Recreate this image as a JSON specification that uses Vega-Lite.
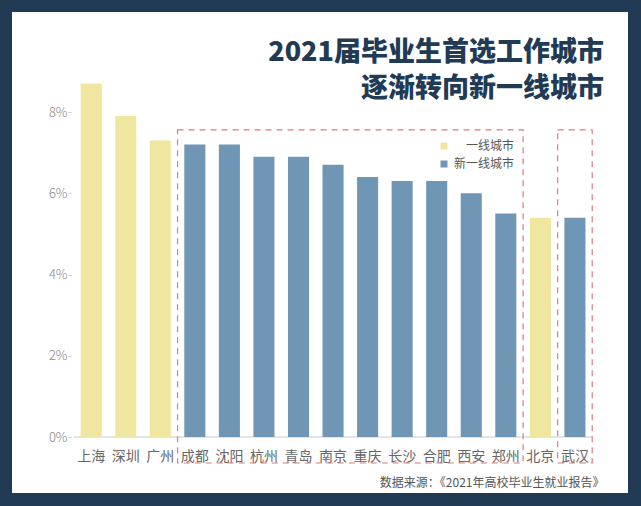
{
  "$schema": "https://vega.github.io/schema/vega-lite/v6.json",
  "width": 616,
  "height": 481,
  "autosize": {"type": "none"},
  "padding": {"left": 12, "top": 12, "right": 13, "bottom": 13},
  "background": "#213b55",
  "config": {
    "view": {"fill": "white", "stroke": null},
    "font": "Noto Sans CJK SC"
  },
  "title": {
    "text": ["2021届毕业生首选工作城市", "逐渐转向新一线城市"],
    "anchor": "end",
    "frame": "group",
    "font": "Noto Sans CJK SC",
    "fontSize": 27,
    "fontWeight": 900,
    "color": "#213b55",
    "lineHeight": 36,
    "offset": -91,
    "dx": -24
  },
  "datasets": {
    "cities": [
      {"city": "上海", "value": 8.7, "type": "一线城市"},
      {"city": "深圳", "value": 7.9, "type": "一线城市"},
      {"city": "广州", "value": 7.3, "type": "一线城市"},
      {"city": "成都", "value": 7.2, "type": "新一线城市"},
      {"city": "沈阳", "value": 7.2, "type": "新一线城市"},
      {"city": "杭州", "value": 6.9, "type": "新一线城市"},
      {"city": "青岛", "value": 6.9, "type": "新一线城市"},
      {"city": "南京", "value": 6.7, "type": "新一线城市"},
      {"city": "重庆", "value": 6.4, "type": "新一线城市"},
      {"city": "长沙", "value": 6.3, "type": "新一线城市"},
      {"city": "合肥", "value": 6.3, "type": "新一线城市"},
      {"city": "西安", "value": 6.0, "type": "新一线城市"},
      {"city": "郑州", "value": 5.5, "type": "新一线城市"},
      {"city": "北京", "value": 5.4, "type": "一线城市"},
      {"city": "武汉", "value": 5.4, "type": "新一线城市"}
    ],
    "frames": [
      {"city": "成都", "city2": "郑州", "top": 7.56, "bottom": -0.64},
      {"city": "武汉", "city2": "武汉", "top": 7.56, "bottom": -0.64}
    ],
    "base": [
      {"city": "上海", "city2": "武汉", "v": 0}
    ]
  },
  "encoding": {
    "x": {
      "field": "city",
      "type": "nominal",
      "sort": null,
      "scale": {
        "domain": ["上海", "深圳", "广州", "成都", "沈阳", "杭州", "青岛", "南京", "重庆", "长沙", "合肥", "西安", "郑州", "北京", "武汉"],
        "range": [61.9, 580.2],
        "paddingInner": 0,
        "paddingOuter": 0
      },
      "axis": {
        "title": "数据来源：《2021年高校毕业生就业报告》",
        "titleX": 592,
        "titleY": 45,
        "titleAlign": "right",
        "titleBaseline": "middle",
        "titleFontSize": 12,
        "titleFontWeight": "normal",
        "titleColor": "#555555",
        "labelAngle": 0,
        "labelFontSize": 14,
        "labelColor": "#666666",
        "labelPadding": 12,
        "ticks": false,
        "domain": false,
        "offset": -56
      }
    }
  },
  "layer": [
    {
      "data": {"name": "base"},
      "mark": {"type": "rule", "color": "#cccccc", "strokeWidth": 1},
      "encoding": {
        "x": {"field": "city", "type": "nominal", "bandPosition": 0},
        "x2": {"field": "city2", "bandPosition": 1},
        "y": {"field": "v", "type": "quantitative"}
      }
    },
    {
      "data": {"name": "cities"},
      "mark": {"type": "bar", "width": {"band": 0.61}},
      "encoding": {
        "y": {
          "field": "value",
          "type": "quantitative",
          "scale": {"domain": [-1.378, 10.462], "nice": false, "zero": false},
          "axis": {
            "values": [0, 2, 4, 6, 8],
            "labelExpr": "datum.value + '%'",
            "title": null,
            "domain": false,
            "grid": false,
            "offset": -59,
            "tickSize": 3,
            "tickColor": "#cccccc",
            "labelColor": "#888888",
            "labelFontSize": 13,
            "labelFontWeight": 300,
            "labelPadding": 1
          }
        },
        "color": {
          "field": "type",
          "type": "nominal",
          "scale": {"domain": ["一线城市", "新一线城市"], "range": ["#efe6a0", "#6f97b5"]},
          "legend": {
            "title": null,
            "orient": "none",
            "legendX": 426,
            "legendY": 128,
            "symbolType": "square",
            "symbolSize": 49,
            "symbolStrokeWidth": 0,
            "labelFontSize": 12,
            "labelColor": "#555555",
            "labelAlign": "right",
            "labelOffset": 64,
            "rowPadding": 6
          }
        }
      }
    },
    {
      "data": {"name": "frames"},
      "mark": {"type": "rect", "fill": null, "fillOpacity": 0, "stroke": "#e07b7b", "strokeWidth": 1.2, "strokeDash": [6, 5]},
      "encoding": {
        "x": {"field": "city", "type": "nominal", "bandPosition": 0},
        "x2": {"field": "city2", "bandPosition": 1},
        "y": {"field": "top", "type": "quantitative"},
        "y2": {"field": "bottom"}
      }
    }
  ]
}
